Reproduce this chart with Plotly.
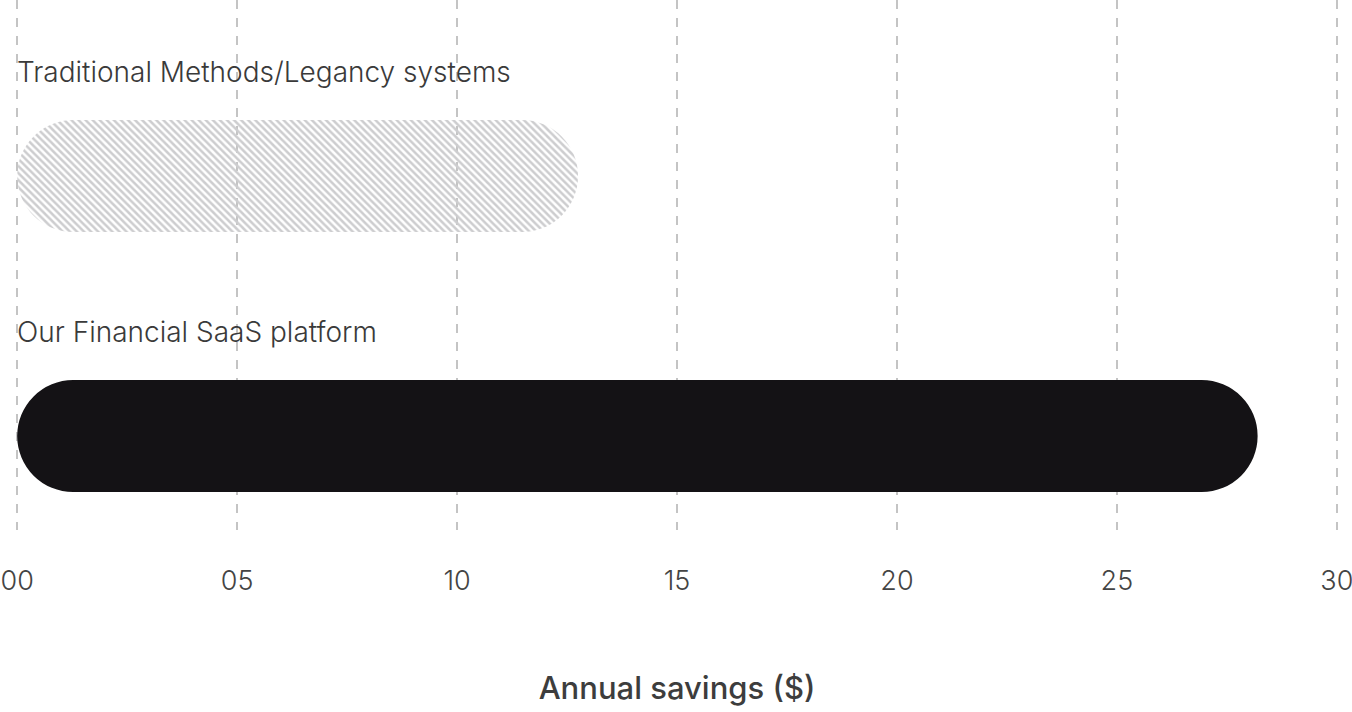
import plotly.graph_objects as go

categories = ["Traditional Methods/Legancy systems", "Our Financial SaaS platform"]
savings = [12.75, 28.2]
tick_values = [0, 5, 10, 15, 20, 25, 30]
tick_labels = ["00", "05", "10", "15", "20", "25", "30"]

bar_colors = ["#cdcdcf", "#141215"]
pattern_shapes = ["\\", ""]
pattern_fg = ["#8c8c90", "#141215"]

fig = go.Figure()
fig.add_trace(go.Bar(
    y=categories,
    x=savings,
    base=[0, 0],
    orientation="h",
    width=0.431,
    marker=dict(
        color=bar_colors,
        line=dict(width=0),
        cornerradius=56,
        pattern=dict(shape=pattern_shapes, fgcolor=pattern_fg,
                     bgcolor=bar_colors, size=5, solidity=0.5,
                     fillmode="replace"),
    ),
    hoverinfo="skip",
    showlegend=False,
))

for cat in categories:
    fig.add_annotation(
        x=0, y=cat, xref="x", yref="y", text=cat, showarrow=False,
        xanchor="left", yanchor="middle", yshift=104, xshift=-2,
        font=dict(family="Inter", size=28, color="#3a3a3a", weight=300),
    )

fig.update_layout(
    width=1352, height=712,
    margin=dict(l=15, r=13, t=0, b=182, autoexpand=False),
    paper_bgcolor="white", plot_bgcolor="white",
    barmode="overlay",
    xaxis=dict(
        range=[-0.05, 30.05], automargin=False,
        tickvals=tick_values, ticktext=tick_labels,
        ticklabeloverflow="allow",
        showgrid=True, gridcolor="#c4c4c4", gridwidth=1.5, griddash="dash",
        zeroline=False, showline=False, ticks="",
        ticklabelstandoff=32,
        tickfont=dict(family="Inter", size=27, color="#444444", weight=300),
        title=dict(text="Annual savings ($)", standoff=81,
                   font=dict(family="Inter", size=31, color="#3d3d3d", weight=500)),
    ),
    yaxis=dict(
        categoryorder="array", categoryarray=list(reversed(categories)),
        range=[-0.3615, 1.677], automargin=False,
        showticklabels=False, showgrid=False, zeroline=False, showline=False,
    ),
)

fig.write_html("out.html", config={"displayModeBar": False},
               post_script="document.body.style.margin='0';document.body.style.overflow='hidden';")
